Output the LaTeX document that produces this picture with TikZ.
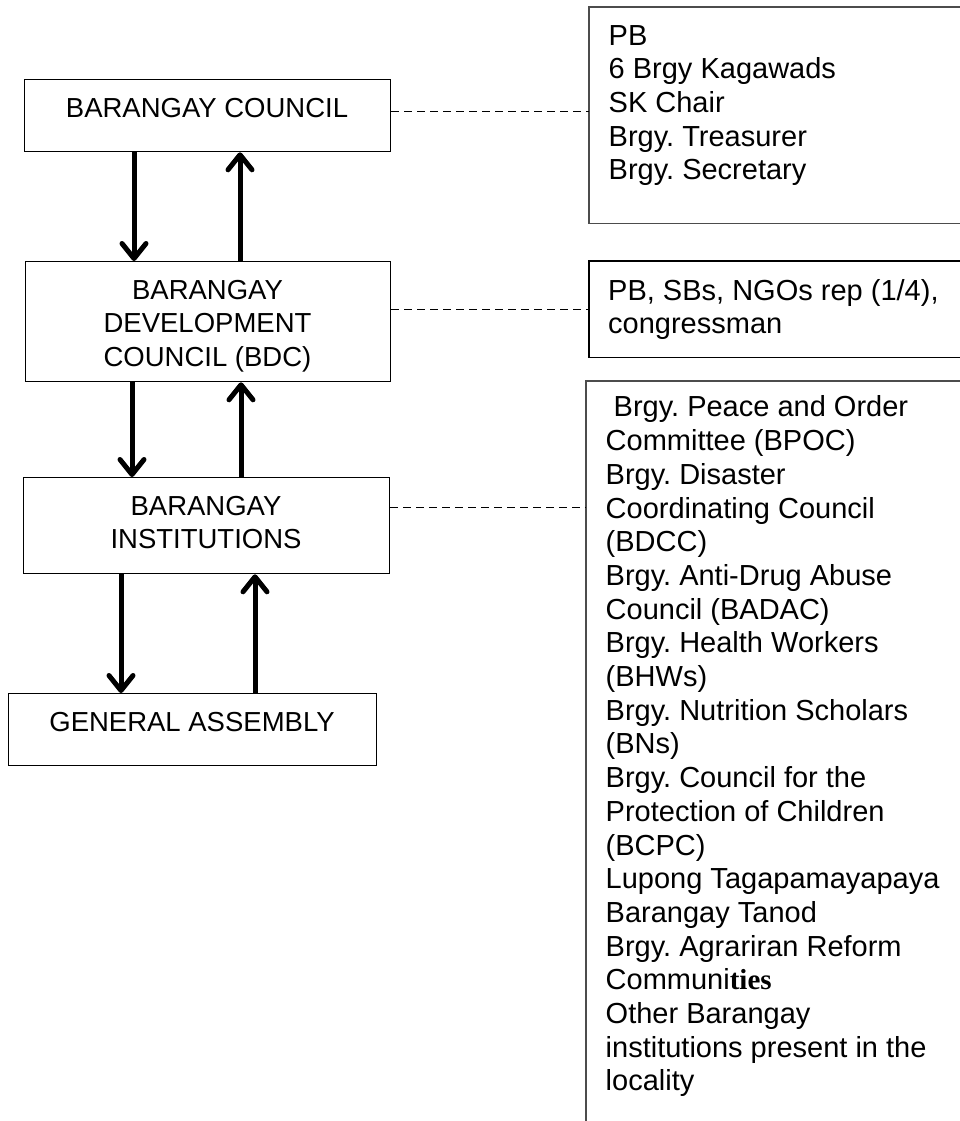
\documentclass[tikz,border=0pt]{standalone}
\usepackage{fontspec}
\setmainfont{Liberation Sans}
\newfontfamily\tiesfont{Liberation Serif}
\usetikzlibrary{arrows.meta}
\frenchspacing

\newcommand{\boxfont}{\fontsize{27.5}{33.7}\selectfont}
\newcommand{\listfont}{\fontsize{29}{33.7}\selectfont}

\tikzset{
  orgbox/.style={draw, line width=1.3pt, inner sep=0pt, anchor=north west},
  orgtext/.style={font=\boxfont, align=center, inner sep=0pt, anchor=north},
  listbox/.style={inner sep=0pt, anchor=north west},
  listedge/.style={line width=1.3pt},
  listtext/.style={font=\listfont, align=left, inner sep=0pt, anchor=north west},
  flow/.style={line width=5pt, -{Straight Barb[length=15pt,width=24pt,round]}},
  link/.style={line width=1pt, dash pattern=on 8pt off 5pt}
}

\begin{document}
\begin{tikzpicture}[x=1pt, y=-1pt]
  \useasboundingbox (0,0) rectangle (960,1121);

  % left column
  \node[orgbox, minimum width=366pt, minimum height=72pt] (bc) at (24,79) {};
  \node[orgtext] (bc-t) at (207,93.4) {\strut BARANGAY COUNCIL};
  \node[orgbox, minimum width=365pt, minimum height=120pt] (bdc) at (25,261) {};
  \node[orgtext] (bdc-t) at (207.5,275.4) {\strut BARANGAY\\DEVELOPMENT\\COUNCIL (BDC)};
  \node[orgbox, minimum width=366pt, minimum height=96pt] (bi) at (23,477) {};
  \node[orgtext] (bi-t) at (206,491.4) {\strut BARANGAY\\INSTITUTIONS};
  \node[orgbox, minimum width=368pt, minimum height=72pt] (ga) at (8,693) {};
  \node[orgtext] (ga-t) at (192,707.4) {\strut GENERAL ASSEMBLY};

  % right column, boxes run off the page on the right
  \node[listbox, minimum width=371pt, minimum height=216pt] (pb) at (589,7) {};
  \draw[listedge, black!70] (pb.north east) -- (pb.north west) -- (pb.south west) -- (pb.south east);
  \node[listtext] (pb-t) at (608.5,21.4) {\strut PB\\6 Brgy Kagawads\\SK Chair\\Brgy. Treasurer\\Brgy. Secretary};
  \node[listbox, minimum width=371pt, minimum height=96pt] (rep) at (589,261) {};
  \draw[listedge] (rep.north east) -- (rep.north west) -- (rep.south west) -- (rep.south east);
  \node[listtext] (rep-t) at (608,276.4) {\strut PB, SBs, NGOs rep (1/4),\\congressman};
  \node[listbox, minimum width=374pt, minimum height=740pt] (inst) at (586,381) {};
  \draw[listedge, black!70] (inst.north east) -- (inst.north west) -- (inst.south west);
  \node[listtext] (inst-t) at (605.5,393.1) {\strut\hspace{8pt}Brgy. Peace and Order\\Committee (BPOC)\\Brgy. Disaster\\Coordinating Council\\(BDCC)\\Brgy. Anti-Drug Abuse\\Council (BADAC)\\Brgy. Health Workers\\(BHWs)\\Brgy. Nutrition Scholars\\(BNs)\\Brgy. Council for the\\Protection of Children\\(BCPC)\\Lupong Tagapamayapaya\\Barangay Tanod\\Brgy. Agrariran Reform\\Communi{\tiesfont\bfseries ties}\\Other Barangay\\institutions present in the\\locality};

  % up and down flows
  \draw[flow] ([xshift=110pt]bc.south west) -- ([xshift=109pt]bdc.north west);
  \draw[flow] ([xshift=215pt]bdc.north west) -- ([xshift=216pt]bc.south west);
  \draw[flow] ([xshift=107pt]bdc.south west) -- ([xshift=109pt]bi.north west);
  \draw[flow] ([xshift=218pt]bi.north west) -- ([xshift=216pt]bdc.south west);
  \draw[flow] ([xshift=98pt]bi.south west) -- ([xshift=113pt]ga.north west);
  \draw[flow] ([xshift=247pt]ga.north west) -- ([xshift=232pt]bi.south west);

  % members
  \draw[link] ([yshift=4pt]bc.east) -- ([yshift=4pt]bc.east -| pb.west);
  \draw[link] (rep.west -| bdc.east) -- (rep.west);
  \draw[link] ([yshift=18pt]bi.east) -- ([yshift=18pt]bi.east -| inst.west);
\end{tikzpicture}
\end{document}
